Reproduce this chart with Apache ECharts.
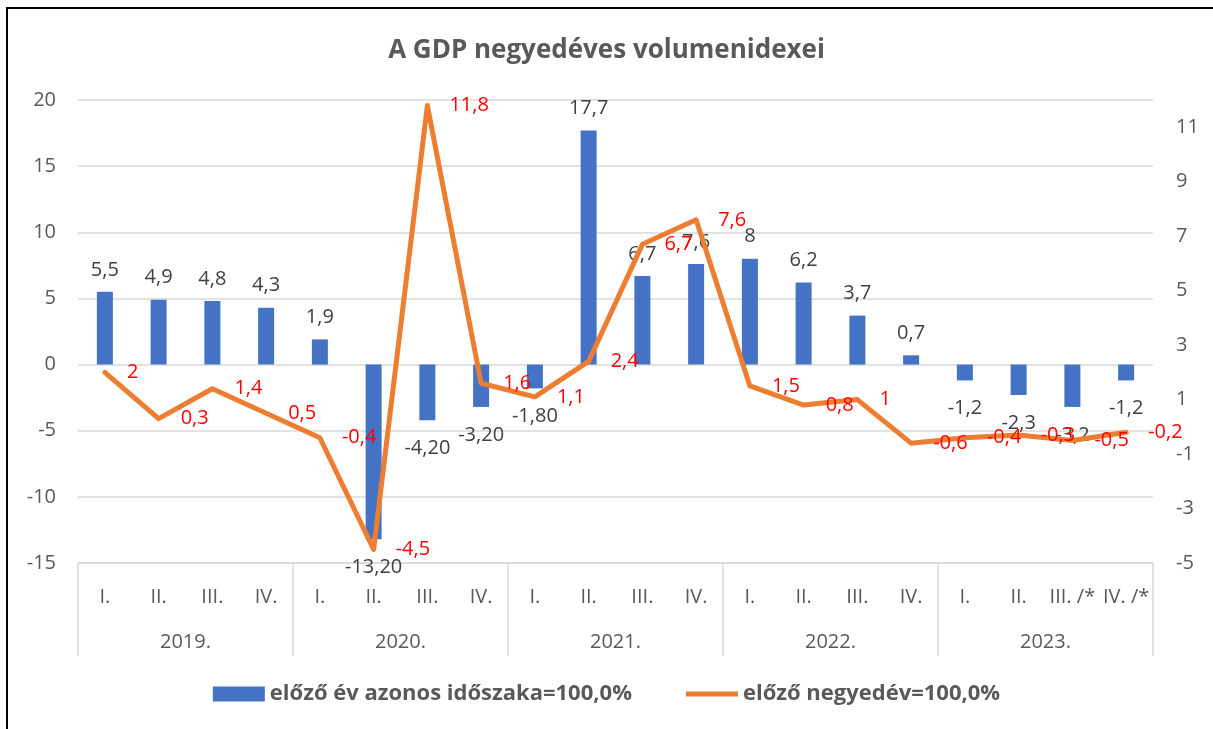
<!DOCTYPE html>
<html>
<head>
<meta charset="utf-8">
<script src="https://cdn.jsdelivr.net/npm/echarts@6/dist/echarts.min.js"></script>
<style>
  html, body { margin: 0; padding: 0; background: #fff; }
  #chart { width: 1213px; height: 729px; }
</style>
</head>
<body>
<div id="chart"></div>
<script>
var quarters = ['I.', 'II.', 'III.', 'IV.', 'I.', 'II.', 'III.', 'IV.', 'I.', 'II.', 'III.', 'IV.',
  'I.', 'II.', 'III.', 'IV.', 'I.', 'II.', 'III. /*', 'IV. /*'];
var years = ['2019.', '2020.', '2021.', '2022.', '2023.'];

// előző év azonos időszaka = 100,0%
var yearOnYear = [5.5, 4.9, 4.8, 4.3, 1.9, -13.2, -4.2, -3.2, -1.8, 17.7, 6.7, 7.6,
  8, 6.2, 3.7, 0.7, -1.2, -2.3, -3.2, -1.2];
var yearOnYearLabels = ['5,5', '4,9', '4,8', '4,3', '1,9', '-13,20', '-4,20', '-3,20', '-1,80', '17,7', '6,7', '7,6',
  '8', '6,2', '3,7', '0,7', '-1,2', '-2,3', '-3,2', '-1,2'];

// előző negyedév = 100,0%
var quarterOnQuarter = [2, 0.3, 1.4, 0.5, -0.4, -4.5, 11.8, 1.6, 1.1, 2.4, 6.7, 7.6,
  1.5, 0.8, 1, -0.6, -0.4, -0.3, -0.5, -0.2];

var font = '"Open Sans", "Noto Sans", sans-serif';

// pozitív érték fölé, negatív alá kerül a felirat
var barData = yearOnYear.map(function (v, i) {
  return {
    value: v,
    label: {
      position: v >= 0 ? 'top' : 'bottom',
      distance: v >= 0 ? 12 : 18,
      formatter: yearOnYearLabels[i]
    }
  };
});

var myChart = echarts.init(document.getElementById('chart'));

var option = {
  backgroundColor: '#fff',
  animation: false,
  textStyle: { fontFamily: font },
  title: {
    text: 'A GDP negyedéves volumenidexei',
    left: 'center',
    top: 33,
    textStyle: { fontSize: 26, fontWeight: 'bold', color: '#595959', fontFamily: font }
  },
  graphic: [{
    type: 'rect',
    shape: { x: 7, y: 8, width: 1230, height: 750 },
    style: { fill: 'none', stroke: '#000', lineWidth: 2 },
    silent: true
  }],
  legend: {
    bottom: 19,
    left: 'center',
    itemGap: 54,
    itemWidth: 52,
    itemHeight: 15,
    textStyle: { fontSize: 22, fontWeight: 'bold', color: '#595959', fontFamily: font },
    data: [
      { name: 'előző év azonos időszaka=100,0%', icon: 'rect' },
      { name: 'előző negyedév=100,0%', icon: 'path://M0,0 L52,0 L52,5 L0,5 Z' }
    ]
  },
  grid: { left: 78, right: 60, top: 100, bottom: 166 },
  xAxis: [{
    type: 'category',
    data: quarters,
    position: 'bottom',
    axisLine: { show: true, onZero: false, lineStyle: { color: '#d9d9d9', width: 1.5 } },
    axisTick: { show: false },
    splitLine: { show: false },
    axisLabel: { margin: 24, fontSize: 20, color: '#595959', interval: 0 }
  }, {
    type: 'category',
    data: years,
    position: 'bottom',
    axisLine: { show: false, onZero: false },
    axisTick: { show: true, inside: false, length: 93, lineStyle: { color: '#d9d9d9', width: 1.5 } },
    splitLine: { show: false },
    axisLabel: { margin: 69, fontSize: 20, color: '#595959', interval: 0 }
  }],
  yAxis: [{
    type: 'value',
    min: -15,
    max: 20,
    interval: 5,
    axisLine: { show: false },
    axisTick: { show: false },
    axisLabel: { fontSize: 20, color: '#595959', margin: 22 },
    splitLine: { lineStyle: { color: '#d9d9d9', width: 1.5 } }
  }, {
    type: 'value',
    min: -5,
    max: 12,
    interval: 1,
    axisLine: { show: false },
    axisTick: { show: false },
    splitLine: { show: false },
    axisLabel: {
      fontSize: 20, color: '#595959', margin: 23,
      formatter: function (v) { return Math.abs(v % 2) === 1 ? String(v) : ''; }
    }
  }],
  series: [{
    name: 'előző év azonos időszaka=100,0%',
    type: 'bar',
    xAxisIndex: 0,
    yAxisIndex: 0,
    data: barData,
    barWidth: 16,
    itemStyle: { color: '#4472c4' },
    label: { show: true, fontSize: 20, color: '#404040' }
  }, {
    name: 'előző negyedév=100,0%',
    type: 'line',
    xAxisIndex: 0,
    yAxisIndex: 1,
    data: quarterOnQuarter,
    symbol: 'circle',
    symbolSize: 2,
    showSymbol: true,
    color: '#ed7d31',
    itemStyle: { color: '#ed7d31' },
    lineStyle: { color: '#ed7d31', width: 5, cap: 'round', join: 'round' },
    label: {
      show: true,
      position: 'right',
      distance: 21,
      offset: [0, 5],
      fontSize: 20,
      color: '#ff0000',
      formatter: function (p) { return String(p.value).replace('.', ','); }
    },
    labelLayout: { hideOverlap: false },
    z: 3
  }]
};

myChart.setOption(option);
</script>
</body>
</html>
